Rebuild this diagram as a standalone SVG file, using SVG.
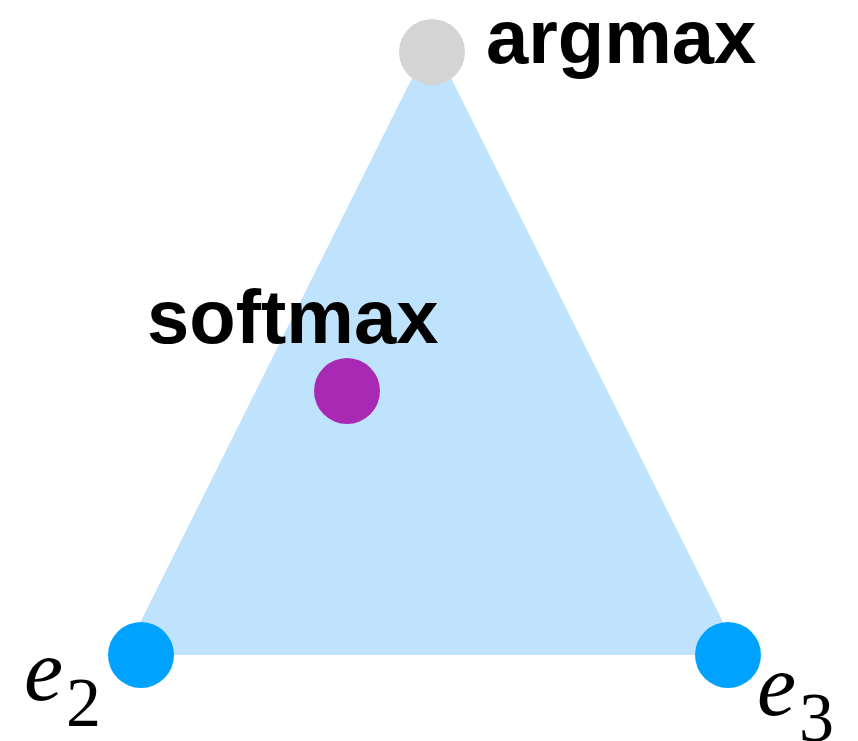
<svg xmlns="http://www.w3.org/2000/svg" width="858" height="741" viewBox="0 0 858 741">
<style>
.lbl{font-family:"Liberation Sans",Arial,sans-serif;font-weight:bold;font-size:76px;fill:#000}
.math{font-family:"Liberation Serif","Times New Roman",serif;fill:#000}
.vtx{fill:#00a2ff}
</style>
<rect width="858" height="741" fill="#fff"/>
<g id="simplex">
<polygon points="431.5,39 124,655 739.5,655" fill="#bfe3fc"/>
</g>
<g id="argmax">
<circle cx="432" cy="52" r="33" fill="#d4d4d4"/>
<text class="lbl" x="486" y="63">argmax</text>
</g>
<g id="softmax">
<circle cx="347" cy="391" r="33" fill="#a829b4"/>
<text class="lbl" x="147" y="343">softmax</text>
</g>
<g id="e2">
<circle class="vtx" cx="141" cy="655" r="33"/>
<text class="math" x="24" y="700" font-size="88" font-style="italic">e</text>
<text class="math" x="66" y="726" font-size="70">2</text>
</g>
<g id="e3">
<circle class="vtx" cx="728" cy="655" r="33"/>
<text class="math" x="757" y="715" font-size="88" font-style="italic">e</text>
<text class="math" x="799" y="741" font-size="70">3</text>
</g>
</svg>
